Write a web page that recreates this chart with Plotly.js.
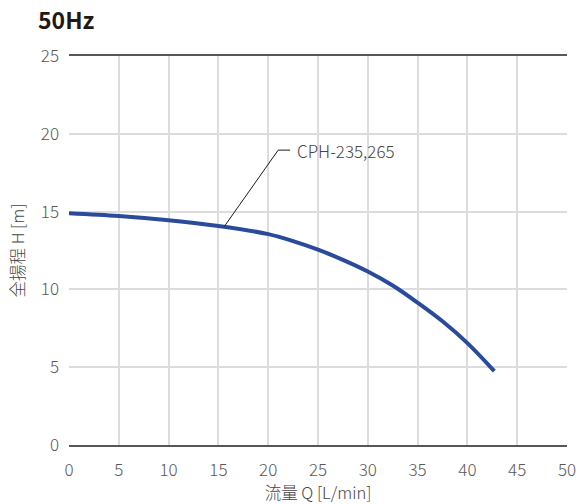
<!DOCTYPE html>
<html>
<head>
<meta charset="utf-8">
<script src="https://cdn.plot.ly/plotly-3.0.1.min.js"></script>
<style>html,body{margin:0;padding:0;background:#fff;}#chart{width:579px;height:504px;}</style>
</head>
<body>
<div id="chart"></div>
<script>
const flowQ = [0, 5, 10, 15, 20, 22.5, 25, 27.5, 30, 32.5, 35, 37.5, 40, 42.7];
const headH = [14.9, 14.72, 14.45, 14.08, 13.55, 13.1, 12.55, 11.9, 11.15, 10.25, 9.15, 7.95, 6.55, 4.75];
const seriesName = "CPH-235,265";
const xTicks = [0, 5, 10, 15, 20, 25, 30, 35, 40, 45, 50];
const yTicks = [0, 5, 10, 15, 20, 25];
const labelPoint = [15.6, 14.05];
const labelElbow = [21.0, 18.95];
const labelEnd = [22.2, 18.95];

const FONT = '"Noto Sans CJK JP", "Noto Sans", sans-serif';

Plotly.newPlot('chart', [{
  x: flowQ, y: headH, type: 'scatter', mode: 'lines',
  line: {color: '#2a4b9b', width: 4, shape: 'spline', smoothing: 1},
  name: seriesName, hoverinfo: 'skip'
}], {
  width: 579, height: 504,
  margin: {l: 69, r: 12, t: 56, b: 59},
  paper_bgcolor: '#fff', plot_bgcolor: '#fff',
  showlegend: false,
  font: {family: FONT, color: '#444'},
  title: {text: '<b>50Hz</b>', font: {family: FONT, size: 23, color: '#231815'},
          x: 38/579, xref: 'container', xanchor: 'left', y: 1 - 21/504, yref: 'container', yanchor: 'middle'},
  xaxis: {
    range: [0, 50], tickvals: xTicks, ticktext: xTicks.map(String),
    showgrid: true, gridcolor: '#dcdcdc', gridwidth: 2,
    showline: true, mirror: true, linecolor: '#595757', linewidth: 2,
    zeroline: false, ticks: '', ticklen: 0, ticklabelstandoff: 9,
    tickfont: {family: FONT, size: 17, color: '#595757', weight: 300},
    title: {text: '流量 Q [L/min]', font: {family: FONT, size: 16.5, color: '#444', weight: 300}, standoff: 5}
  },
  yaxis: {
    range: [0, 25], tickvals: yTicks, ticktext: yTicks.map(String),
    showgrid: true, gridcolor: '#dcdcdc', gridwidth: 2,
    showline: false, zeroline: false, ticks: '', ticklabelstandoff: 9,
    tickfont: {family: FONT, size: 17, color: '#595757', weight: 300},
    title: {text: '全揚程 H [m]', font: {family: FONT, size: 16.5, color: '#444', weight: 300}, standoff: 12}
  },
  shapes: [{
    type: 'path', xref: 'x', yref: 'y',
    path: 'M ' + labelPoint[0] + ',' + labelPoint[1] + ' L ' + labelElbow[0] + ',' + labelElbow[1] + ' L ' + labelEnd[0] + ',' + labelEnd[1],
    line: {color: '#231815', width: 1}
  }],
  annotations: [{
    x: labelEnd[0] + 0.5, y: labelEnd[1], xref: 'x', yref: 'y', xanchor: 'left', yanchor: 'middle',
    text: seriesName, showarrow: false, font: {family: FONT, size: 17, color: '#444', weight: 300}
  }]
}, {displayModeBar: false, staticPlot: true});
</script>
</body>
</html>
